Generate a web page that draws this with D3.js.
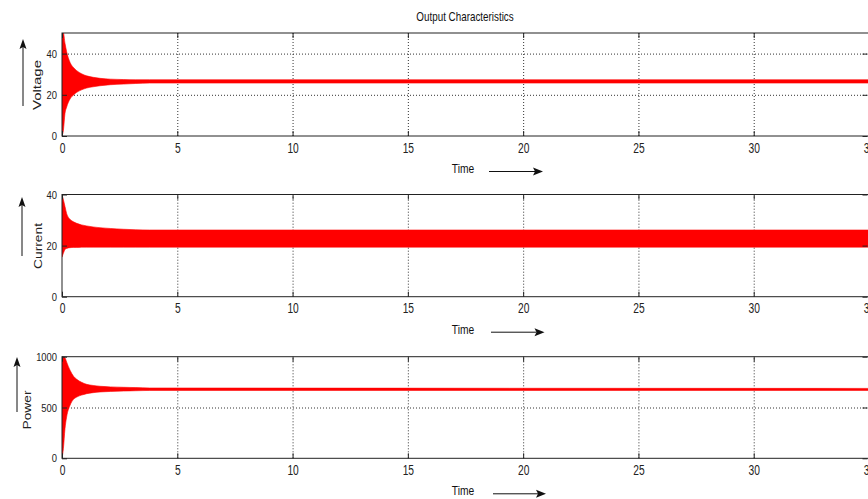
<!DOCTYPE html>
<html>
<head>
<meta charset="utf-8">
<script src="https://cdn.jsdelivr.net/npm/d3@7"></script>
<style>
  body { margin: 0; background: #fff; }
  svg { display: block; }
</style>
</head>
<body>
<script>
var envTime = [0, 0.06, 0.13, 0.2, 0.35, 0.5, 0.64, 0.85, 1.07, 1.35, 1.65, 2.1, 2.67, 3.2, 3.8, 35];

var voltageUpper = [50, 50, 45, 41, 35.7, 33.2, 31.7, 30.2, 29.2, 28.5, 28, 27.6, 27.4, 27.3, 27.3, 27.3];
var voltageLower = [0, 2.7, 11, 14, 18, 19.9, 21.2, 22.4, 23.3, 23.9, 24.4, 24.9, 25.2, 25.5, 25.7, 25.7];

var currentUpper = [40, 38, 35.3, 32.6, 30.3, 29.3, 28.7, 28.1, 27.7, 27.3, 27, 26.7, 26.4, 26.2, 26.1, 26.1];
var currentLower = [15.5, 17, 18.5, 18.9, 19.2, 19.3, 19.3, 19.4, 19.4, 19.4, 19.4, 19.4, 19.4, 19.4, 19.4, 19.4];

var powerUpper = [1000, 1000, 990, 948, 866, 808, 777, 748, 728, 717, 709, 703, 699, 696, 692, 688];
var powerLower = [0, 95, 291, 406, 522, 580, 603, 622, 636, 646, 653, 658, 662, 665, 668, 668];

var xTicks = [0, 5, 10, 15, 20, 25, 30, 35];
var voltageTicks = [0, 20, 40];
var currentTicks = [0, 20, 40];
var powerTicks = [0, 500, 1000];

var titleText = "Output Characteristics";
var xLabel = "Time";

var panels = [
  { label: "Voltage", max: 50, ticks: voltageTicks, upper: voltageUpper, lower: voltageLower,
    top: 33, bottom: 136, labelX: 40.5, labelY: 85, labelLen: 50, arrowX: 23, arrowY0: 106, arrowY1: 39 },
  { label: "Current", max: 40, ticks: currentTicks, upper: currentUpper, lower: currentLower,
    top: 194.5, bottom: 296.7, labelX: 41.5, labelY: 246, labelLen: 46, arrowX: 22, arrowY0: 256, arrowY1: 197 },
  { label: "Power", max: 1000, ticks: powerTicks, upper: powerUpper, lower: powerLower,
    top: 356.7, bottom: 458.3, labelX: 30.5, labelY: 410, labelLen: 39, arrowX: 17, arrowY0: 412, arrowY1: 357 }
];

var FONT = "\"Liberation Sans\", Arial, sans-serif";
var SQUEEZE = "scale(0.82,1)"; // the chart uses a condensed face

var svg = d3.select("body").append("svg")
  .attr("width", 868)
  .attr("height", 499);

var x = d3.scaleLinear().domain([0, 35]).range([62, 869]);

// title
svg.append("text")
  .attr("transform", "translate(465,21) " + SQUEEZE)
  .attr("text-anchor", "middle")
  .attr("font-family", FONT)
  .attr("font-size", 12)
  .attr("fill", "#111")
  .text(titleText);

panels.forEach(function (p, i) {
  var h = p.bottom - p.top;
  var y = d3.scaleLinear().domain([0, p.max]).range([p.bottom, p.top]);
  var g = svg.append("g");

  // dotted grid
  g.append("g")
    .attr("transform", "translate(0," + p.bottom + ")")
    .call(d3.axisBottom(x).tickValues(xTicks.slice(1, -1)).tickSize(-h).tickFormat(""))
    .call(function (s) { s.select(".domain").remove(); })
    .selectAll("line")
    .attr("stroke", "#333")
    .attr("stroke-dasharray", "1,2");

  g.append("g")
    .attr("transform", "translate(62,0)")
    .call(d3.axisLeft(y).tickValues(p.ticks.filter(function (v) { return v > 0 && v < p.max; }))
      .tickSize(-(869 - 62)).tickFormat(""))
    .call(function (s) { s.select(".domain").remove(); })
    .selectAll("line")
    .attr("stroke", "#333")
    .attr("stroke-dasharray", "1,2");

  // signal band
  svg.append("clipPath").attr("id", "clip" + i)
    .append("rect")
    .attr("x", 62).attr("y", p.top)
    .attr("width", 869 - 62).attr("height", h);

  var area = d3.area()
    .x(function (d) { return x(d); })
    .y0(function (d, j) { return y(p.lower[j]); })
    .y1(function (d, j) { return y(p.upper[j]); })
    .curve(d3.curveMonotoneX);

  g.append("path")
    .datum(envTime)
    .attr("clip-path", "url(#clip" + i + ")")
    .attr("fill", "#ff0000")
    .attr("stroke", "#ff0000")
    .attr("stroke-width", 0.6)
    .attr("d", area);

  // border
  g.append("rect")
    .attr("x", 62).attr("y", p.top)
    .attr("width", 869 - 62).attr("height", h)
    .attr("fill", "none")
    .attr("stroke", "#222")
    .attr("stroke-width", 1);

  // axes with inward ticks
  var xb = g.append("g")
    .attr("transform", "translate(0," + p.bottom + ")")
    .call(d3.axisBottom(x).tickValues(xTicks).tickSize(-5).tickPadding(6).tickFormat(d3.format("d")));
  xb.select(".domain").remove();
  xb.selectAll("text").attr("font-size", 12.5).attr("fill", "#222")
    .attr("font-family", FONT).attr("transform", "scale(0.82,1.12)");
  xb.selectAll("line").attr("stroke", "#222");

  var xt = g.append("g")
    .attr("transform", "translate(0," + p.top + ")")
    .call(d3.axisTop(x).tickValues(xTicks).tickSize(-5).tickFormat(""));
  xt.select(".domain").remove();
  xt.selectAll("line").attr("stroke", "#222");

  var yl = g.append("g")
    .attr("transform", "translate(62,0)")
    .call(d3.axisLeft(y).tickValues(p.ticks).tickSize(-5).tickPadding(6).tickFormat(d3.format("d")));
  yl.select(".domain").remove();
  yl.selectAll("text").attr("font-size", 11.5).attr("fill", "#222")
    .attr("font-family", FONT).attr("transform", SQUEEZE);
  yl.selectAll("line").attr("stroke", "#222");

  var yr = g.append("g")
    .attr("transform", "translate(867.5,0)")
    .call(d3.axisRight(y).tickValues(p.ticks).tickSize(-5).tickFormat(""));
  yr.select(".domain").remove();
  yr.selectAll("line").attr("stroke", "#222");

  // y label with arrow
  g.append("text")
    .attr("transform", "translate(" + p.labelX + "," + p.labelY + ") rotate(-90)")
    .attr("text-anchor", "middle")
    .attr("font-family", FONT)
    .attr("font-size", 11)
    .attr("textLength", p.labelLen)
    .attr("lengthAdjust", "spacingAndGlyphs")
    .attr("fill", "#222")
    .text(p.label);

  g.append("line")
    .attr("x1", p.arrowX).attr("x2", p.arrowX)
    .attr("y1", p.arrowY0).attr("y2", p.arrowY1 + 8)
    .attr("stroke", "#111").attr("stroke-width", 1);
  g.append("path")
    .attr("d", "M" + p.arrowX + "," + p.arrowY1 + "L" + (p.arrowX - 3.5) + "," + (p.arrowY1 + 10) +
      "L" + p.arrowX + "," + (p.arrowY1 + 8) + "L" + (p.arrowX + 3.5) + "," + (p.arrowY1 + 10) + "Z")
    .attr("fill", "#111");

  // Time label with arrow
  var tb = p.bottom + 37;
  g.append("text")
    .attr("transform", "translate(463," + tb + ") " + SQUEEZE)
    .attr("text-anchor", "middle")
    .attr("font-family", FONT)
    .attr("font-size", 12.5)
    .attr("fill", "#111")
    .text(xLabel);

  var ax0 = 489 + i * 2, ax1 = 543 + i * 1.5, ay = tb - 1.5;
  g.append("line")
    .attr("x1", ax0).attr("x2", ax1 - 8)
    .attr("y1", ay).attr("y2", ay)
    .attr("stroke", "#111").attr("stroke-width", 1);
  g.append("path")
    .attr("d", "M" + ax1 + "," + ay + "L" + (ax1 - 10) + "," + (ay - 4) +
      "L" + (ax1 - 8) + "," + ay + "L" + (ax1 - 10) + "," + (ay + 4) + "Z")
    .attr("fill", "#111");
});
</script>
</body>
</html>
